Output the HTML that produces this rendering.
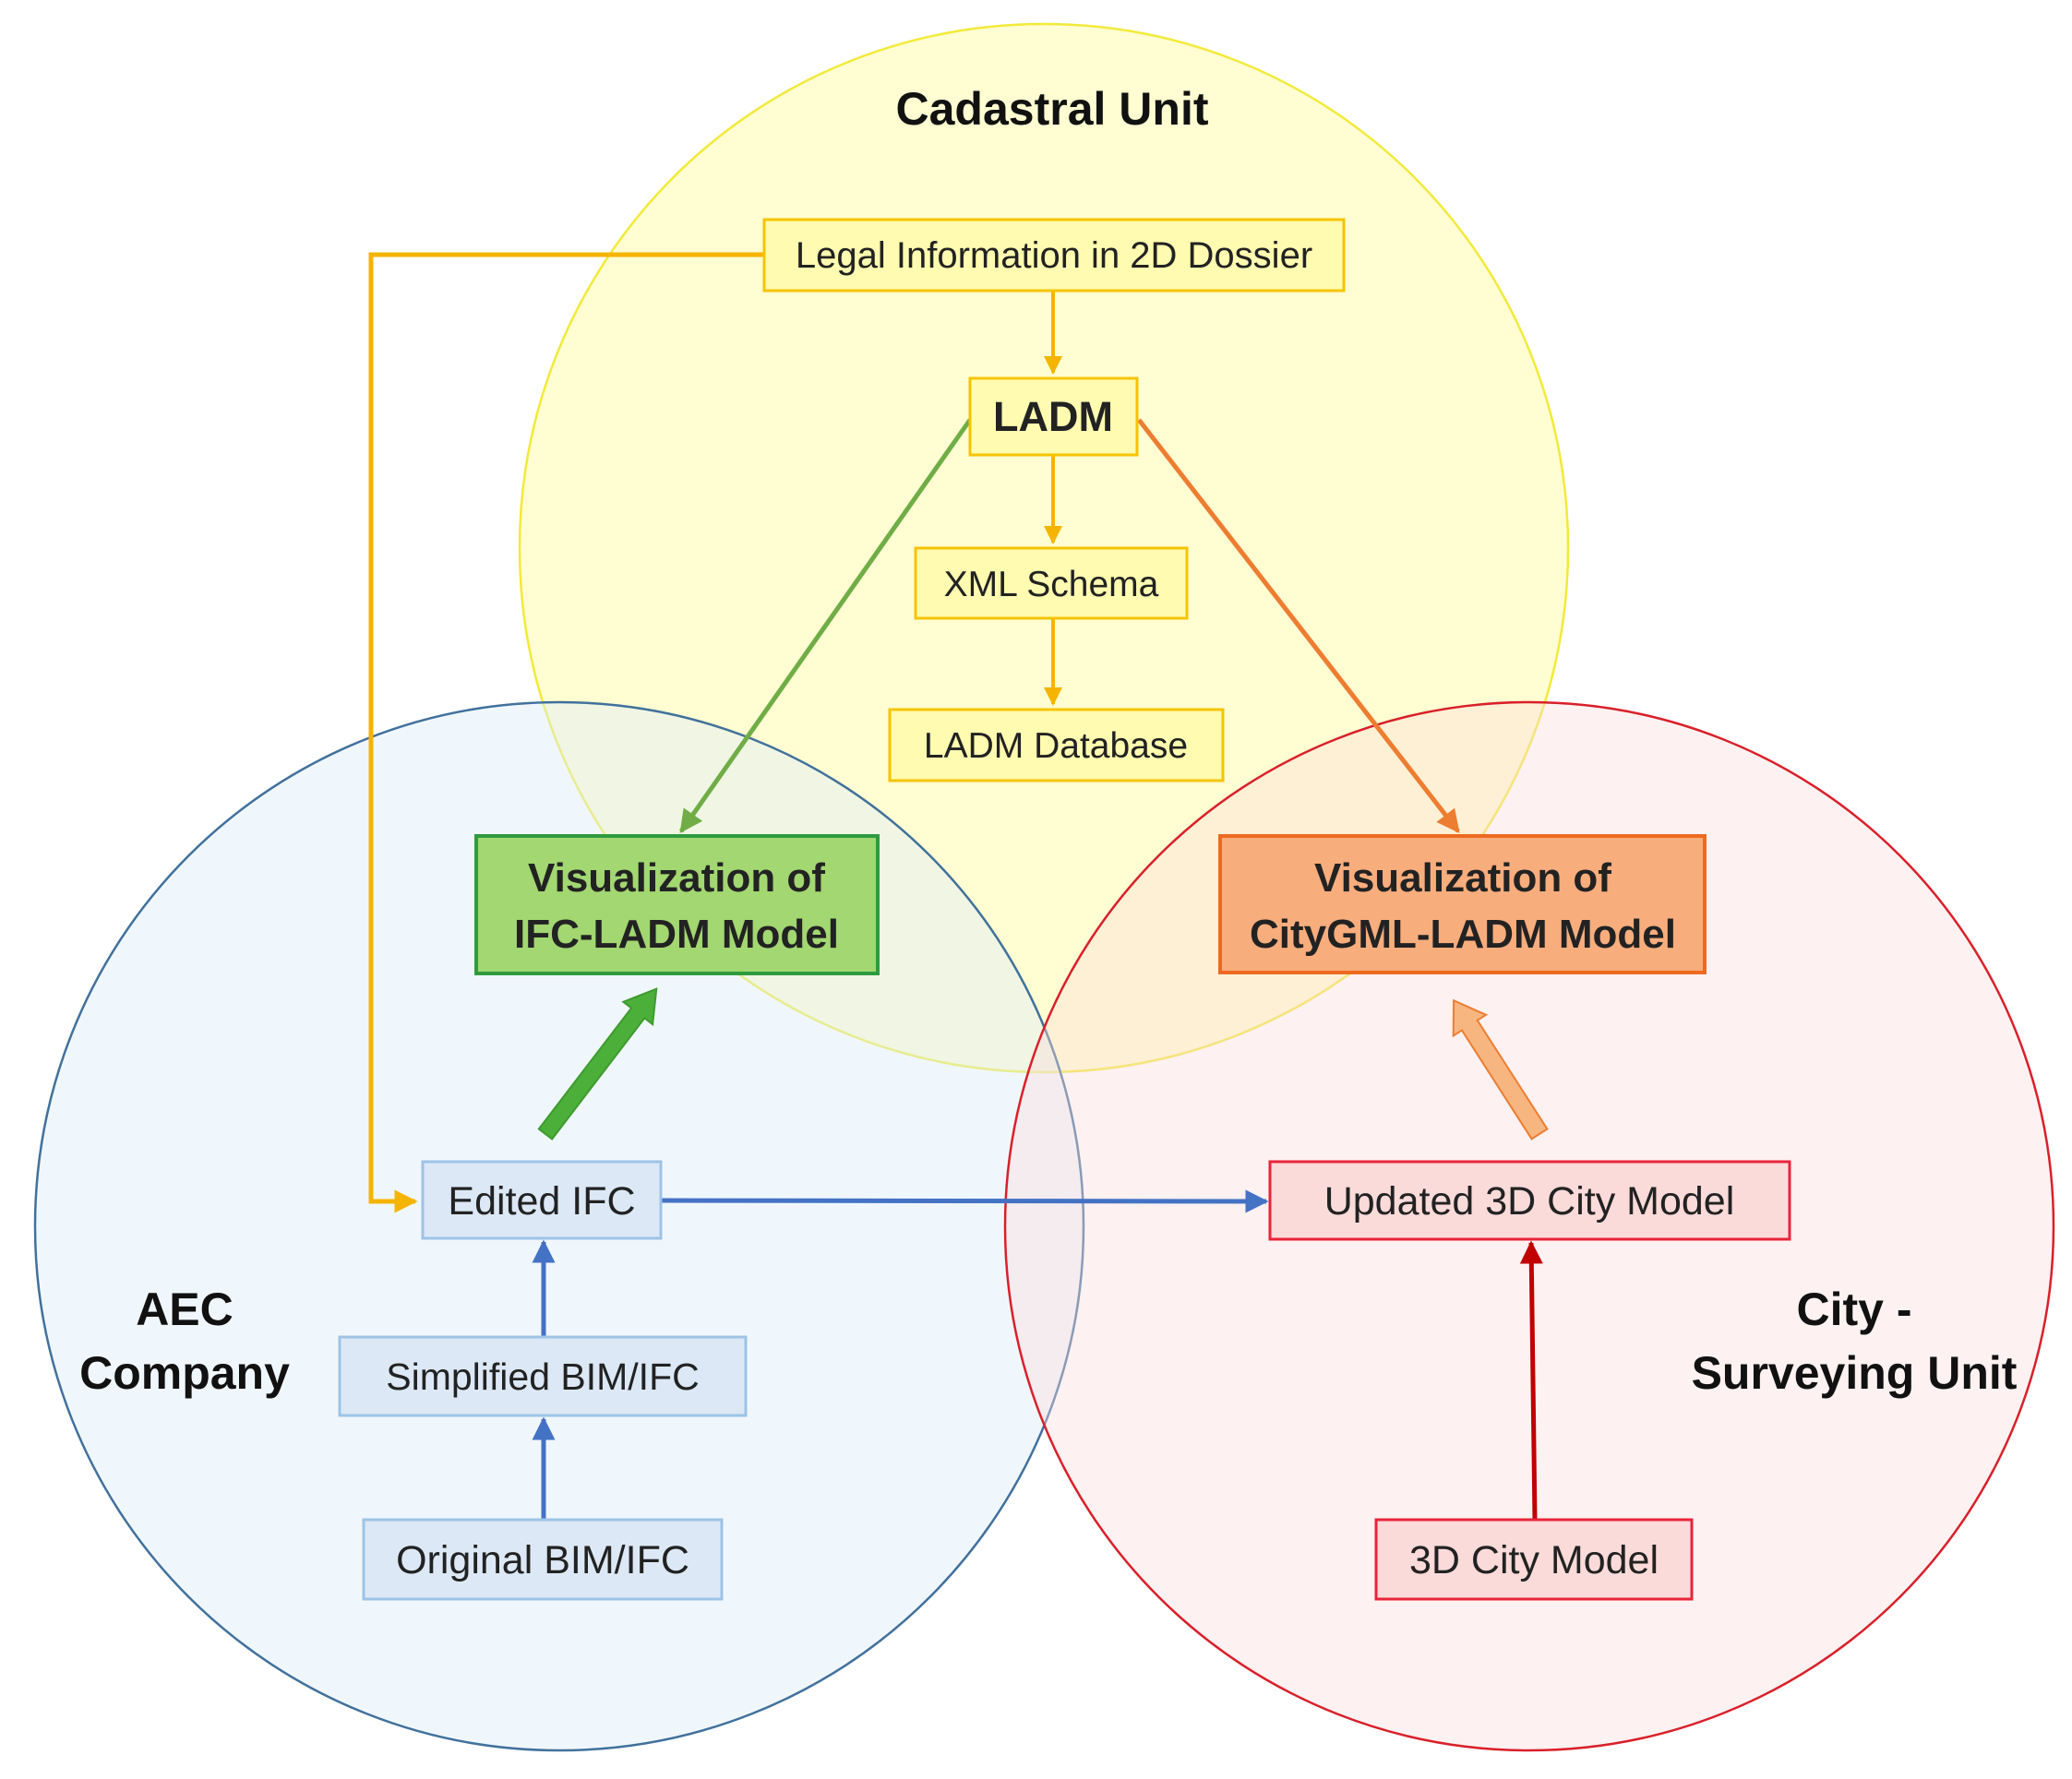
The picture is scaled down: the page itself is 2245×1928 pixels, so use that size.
<!DOCTYPE html>
<html><head><meta charset="utf-8"><style>
html,body{margin:0;padding:0;background:#fff;}
svg{display:block;}
text{font-family:"Liberation Sans",sans-serif;}
</style></head><body>
<svg width="2245" height="1928" viewBox="0 0 2245 1928" xmlns="http://www.w3.org/2000/svg">
<defs>
<marker id="ay" markerWidth="5" markerHeight="5" refX="4.5" refY="2.5" orient="auto" markerUnits="strokeWidth"><path d="M0,0 L5,2.5 L0,5 Z" fill="#f5b400"/></marker>
<marker id="ab" markerWidth="5" markerHeight="5" refX="4.5" refY="2.5" orient="auto" markerUnits="strokeWidth"><path d="M0,0 L5,2.5 L0,5 Z" fill="#4472c4"/></marker>
<marker id="ag" markerWidth="5" markerHeight="5" refX="4.5" refY="2.5" orient="auto" markerUnits="strokeWidth"><path d="M0,0 L5,2.5 L0,5 Z" fill="#70ad47"/></marker>
<marker id="ao" markerWidth="5" markerHeight="5" refX="4.5" refY="2.5" orient="auto" markerUnits="strokeWidth"><path d="M0,0 L5,2.5 L0,5 Z" fill="#ed7d31"/></marker>
<marker id="ar" markerWidth="5" markerHeight="5" refX="4.5" refY="2.5" orient="auto" markerUnits="strokeWidth"><path d="M0,0 L5,2.5 L0,5 Z" fill="#c00000"/></marker>
</defs>
<circle cx="1131" cy="594" r="568" fill="#fffb9a" fill-opacity="0.45" stroke="#f2ea3a" stroke-width="2.5"/>
<circle cx="606" cy="1329" r="568" fill="#deeef8" fill-opacity="0.45" stroke="#41719c" stroke-width="2.5"/>
<circle cx="1657" cy="1329" r="568" fill="#fadcdc" fill-opacity="0.4" stroke="#d9202a" stroke-width="2.5"/>

<g font-size="50" font-weight="bold" text-anchor="middle" fill="#111">
<text x="1140" y="135">Cadastral Unit</text>
<text x="200" y="1436">AEC</text>
<text x="200" y="1505">Company</text>
<text x="2009" y="1436">City -</text>
<text x="2009" y="1505">Surveying Unit</text>
</g>

<polyline points="828,276 402,276 402,1302 450,1302" fill="none" stroke="#f5b400" stroke-width="5" marker-end="url(#ay)"/>
<line x1="1141" y1="315" x2="1141" y2="404" stroke="#f5b400" stroke-width="4" marker-end="url(#ay)"/>
<line x1="1141" y1="493" x2="1141" y2="588" stroke="#f5b400" stroke-width="4" marker-end="url(#ay)"/>
<line x1="1141" y1="670" x2="1141" y2="763" stroke="#f5b400" stroke-width="4" marker-end="url(#ay)"/>
<line x1="1051" y1="455" x2="738" y2="901" stroke="#70ad47" stroke-width="5" marker-end="url(#ag)"/>
<line x1="1234" y1="455" x2="1580" y2="901" stroke="#ed7d31" stroke-width="5" marker-end="url(#ao)"/>
<line x1="716" y1="1301" x2="1372" y2="1302" stroke="#4472c4" stroke-width="5" marker-end="url(#ab)"/>
<line x1="589" y1="1449" x2="589" y2="1346" stroke="#4472c4" stroke-width="5" marker-end="url(#ab)"/>
<line x1="589" y1="1647" x2="589" y2="1538" stroke="#4472c4" stroke-width="5" marker-end="url(#ab)"/>
<line x1="1663" y1="1647" x2="1659" y2="1347" stroke="#c00000" stroke-width="5" marker-end="url(#ar)"/>

<g transform="translate(591,1229) rotate(-52.6)">
<polygon points="0,-9 165,-9 165,-20 198,0 165,20 165,9 0,9" fill="#4caf3a" stroke="#3d9b2e" stroke-width="2"/>
</g>
<g transform="translate(1668,1229) rotate(-122.7)">
<polygon points="0,-10 140,-10 140,-21 172,0 140,21 140,10 0,10" fill="#f7b57f" stroke="#ed7d31" stroke-width="2"/>
</g>

<g font-size="36" fill="#222" text-anchor="middle">
<rect x="828" y="238" width="628" height="77" fill="#fffbb0" stroke="#f5c400" stroke-width="3"/>
<text x="1142" y="290" font-size="40">Legal Information in 2D Dossier</text>
<rect x="1051" y="410" width="181" height="83" fill="#fffbb0" stroke="#f5c400" stroke-width="3"/>
<text x="1141" y="467" font-size="45" font-weight="bold">LADM</text>
<rect x="992" y="594" width="294" height="76" fill="#fffbb0" stroke="#f5c400" stroke-width="3"/>
<text x="1139" y="646" font-size="39">XML Schema</text>
<rect x="964" y="769" width="361" height="77" fill="#fffbb0" stroke="#f5c400" stroke-width="3"/>
<text x="1144" y="821" font-size="39">LADM Database</text>

<rect x="516" y="906" width="435" height="149" fill="#a2d771" stroke="#2e9b3e" stroke-width="4"/>
<text x="733" y="966" font-size="44" font-weight="bold">Visualization of</text>
<text x="733" y="1027" font-size="44" font-weight="bold">IFC-LADM Model</text>
<rect x="1322" y="906" width="525" height="148" fill="#f8ad7d" stroke="#ed6a1f" stroke-width="4"/>
<text x="1585" y="966" font-size="44" font-weight="bold">Visualization of</text>
<text x="1585" y="1027" font-size="44" font-weight="bold">CityGML-LADM Model</text>

<rect x="458" y="1259" width="258" height="83" fill="#dce8f5" stroke="#9dc3e6" stroke-width="3"/>
<text x="587" y="1316" font-size="43">Edited IFC</text>
<rect x="368" y="1449" width="440" height="85" fill="#dce8f5" stroke="#9dc3e6" stroke-width="3"/>
<text x="588" y="1506" font-size="41">Simplified BIM/IFC</text>
<rect x="394" y="1647" width="388" height="86" fill="#dce8f5" stroke="#9dc3e6" stroke-width="3"/>
<text x="588" y="1705" font-size="43">Original BIM/IFC</text>

<rect x="1376" y="1259" width="563" height="84" fill="#fbdada" stroke="#e8243a" stroke-width="3"/>
<text x="1657" y="1316" font-size="43">Updated 3D City Model</text>
<rect x="1491" y="1647" width="342" height="86" fill="#fbdada" stroke="#e8243a" stroke-width="3"/>
<text x="1662" y="1705" font-size="43">3D City Model</text>
</g>
</svg>
</body></html>
